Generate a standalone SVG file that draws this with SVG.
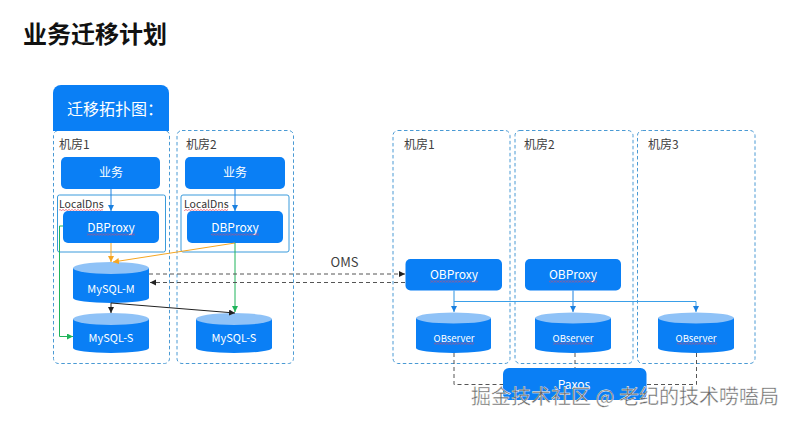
<svg xmlns="http://www.w3.org/2000/svg" width="792" height="422" viewBox="0 0 792 422">
<style>
text{font-family:"Noto Sans CJK SC","Liberation Sans",sans-serif}
.room{fill:#fff;stroke:#4a9ad4;stroke-width:1;stroke-dasharray:3.5 2.5}
.dns{fill:#fff;stroke:#3a9bdc;stroke-width:1}
.box{fill:#0a7ff5}
.side{fill:#0a7ff5}
.top{fill:#8fc2f7}
.w{fill:#fff;text-anchor:middle}
.k{fill:#404040;font-size:12px}
.sq{fill:url(#wavy)}
.c{fill:none;stroke-width:1}
.d{fill:none;stroke:#555;stroke-width:1;stroke-dasharray:4 3}
</style>
<defs>
<pattern id="wavy" width="3" height="2" patternUnits="userSpaceOnUse"><path d="M0 1.500L1.500 .5L3 1.500" fill="none" stroke="#e8455f" stroke-width=".7"/></pattern>
<marker id="ab" markerWidth="7" markerHeight="7" refX="6" refY="3" orient="auto"><path d="M0 0L6 3L0 6z" fill="#1a80e0"/></marker>
<marker id="ag" markerWidth="7" markerHeight="7" refX="6" refY="3" orient="auto"><path d="M0 0L6 3L0 6z" fill="#1fb45a"/></marker>
<marker id="ao" markerWidth="7" markerHeight="7" refX="6" refY="3" orient="auto"><path d="M0 0L6 3L0 6z" fill="#f5a623"/></marker>
<marker id="ak" markerWidth="7" markerHeight="7" refX="6" refY="3" orient="auto"><path d="M0 0L6 3L0 6z" fill="#222"/></marker>
</defs>
<rect width="792" height="422" fill="#fff"/>
<text id="title" x="23" y="43" font-size="24" font-weight="700" fill="#111">业务迁移计划</text>

<g id="room-a1"><rect class="room" x="53.500" y="130.500" width="116" height="233" rx="5"/><text class="k" x="59" y="149">机房1</text></g>
<g id="room-a2"><rect class="room" x="177" y="130.500" width="116.500" height="233" rx="5"/><text class="k" x="186" y="149">机房2</text></g>
<g id="room-b1"><rect class="room" x="393" y="130.500" width="117" height="233" rx="5"/><text class="k" x="404" y="149">机房1</text></g>
<g id="room-b2"><rect class="room" x="515" y="130.500" width="118" height="233" rx="5"/><text class="k" x="524" y="149">机房2</text></g>
<g id="room-b3"><rect class="room" x="637.500" y="130.500" width="117.500" height="233" rx="5"/><text class="k" x="648" y="149">机房3</text></g>

<g id="heading"><path class="box" d="M53 131V93a8 8 0 0 1 8-8H161a8 8 0 0 1 8 8V131z"/><text x="67" y="115" font-size="16" fill="#fff">迁移拓扑图：</text></g>

<g id="dns1"><rect class="dns" x="57.500" y="195" width="108" height="57" rx="2"/><text x="59" y="208" font-size="10.500" fill="#333">LocalDns</text><rect class="sq" x="59" y="209" width="44" height="2"/></g>
<g id="dns2"><rect class="dns" x="181" y="195" width="108" height="57" rx="2"/><text x="184" y="208" font-size="10.500" fill="#333">LocalDns</text><rect class="sq" x="184" y="209" width="44" height="2"/></g>

<g id="biz1"><rect class="box" x="61" y="157" width="99" height="32" rx="5"/><text class="w" x="111" y="177" font-size="12">业务</text></g>
<g id="biz2"><rect class="box" x="185" y="157" width="100" height="32" rx="5"/><text class="w" x="235" y="177" font-size="12">业务</text></g>
<g id="dbproxy1"><rect class="box" x="63" y="211" width="96" height="32" rx="5"/><text class="w" x="111" y="232" font-size="12">DBProxy</text><rect class="sq" x="87" y="233.500" width="48" height="2"/></g>
<g id="dbproxy2"><rect class="box" x="187" y="211" width="96" height="32" rx="5"/><text class="w" x="235" y="232" font-size="12">DBProxy</text><rect class="sq" x="211" y="233.500" width="48" height="2"/></g>

<g id="mysql-m"><path class="side" d="M73 268V298A38 5 0 0 0 149 298V268z"/><ellipse class="top" cx="111" cy="268" rx="38" ry="6"/><text class="w" x="111" y="293" font-size="11">MySQL-M</text></g>
<g id="mysql-s1"><path class="side" d="M73 319V348A38 5 0 0 0 149 348V319z"/><ellipse class="top" cx="111" cy="319" rx="38" ry="6"/><text class="w" x="111" y="342" font-size="11">MySQL-S</text></g>
<g id="mysql-s2"><path class="side" d="M196 319V348A38 5 0 0 0 272 348V319z"/><ellipse class="top" cx="234" cy="319" rx="38" ry="6"/><text class="w" x="234" y="342" font-size="11">MySQL-S</text></g>

<g id="obproxy1"><rect class="box" x="405.500" y="259" width="96.500" height="31.500" rx="5"/><text class="w" x="454" y="279" font-size="12">OBProxy</text><rect class="sq" x="430" y="280.500" width="48" height="2"/></g>
<g id="obproxy2"><rect class="box" x="525" y="259" width="96" height="31.500" rx="5"/><text class="w" x="573" y="279" font-size="12">OBProxy</text><rect class="sq" x="549" y="280.500" width="48" height="2"/></g>

<g id="obs1"><path class="side" d="M416 318V348A37.500 5 0 0 0 491 348V318z"/><ellipse class="top" cx="453.500" cy="318" rx="37.500" ry="5.500"/><text class="w" x="454" y="342" font-size="9.500">OBserver</text><rect class="sq" x="434" y="342.500" width="40" height="2"/></g>
<g id="obs2"><path class="side" d="M535 318V348A38 5 0 0 0 611 348V318z"/><ellipse class="top" cx="573" cy="318" rx="38" ry="5.500"/><text class="w" x="573" y="342" font-size="9.500">OBserver</text><rect class="sq" x="553" y="342.500" width="40" height="2"/></g>
<g id="obs3"><path class="side" d="M658 318V348A38 5 0 0 0 734 348V318z"/><ellipse class="top" cx="696" cy="318" rx="38" ry="5.500"/><text class="w" x="696" y="342" font-size="9.500">OBserver</text><rect class="sq" x="677" y="342.500" width="40" height="2"/></g>

<g id="connectors">
<path class="c" stroke="#1a80e0" marker-end="url(#ab)" d="M111 189V211"/>
<path class="c" stroke="#1a80e0" marker-end="url(#ab)" d="M235 189V211"/>
<path class="c" stroke="#f5a623" marker-end="url(#ao)" d="M111 243V262"/>
<path class="c" stroke="#f5a623" marker-end="url(#ao)" d="M235 243L113 262"/>
<path class="c" stroke="#1fb45a" marker-end="url(#ag)" d="M235 243V312"/>
<path class="c" stroke="#1fb45a" marker-end="url(#ag)" d="M63 226H59.500V336.500H73"/>
<path class="c" stroke="#222" marker-end="url(#ak)" d="M111 303V313"/>
<path class="c" stroke="#222" marker-end="url(#ak)" d="M111 303L235 313"/>
<path class="d" marker-end="url(#ak)" d="M149 274H405"/>
<path class="d" marker-end="url(#ak)" d="M405 282.500H150"/>
<path class="c" stroke="#2f93e0" marker-end="url(#ab)" d="M454 290.500V312"/>
<path class="c" stroke="#1a80e0" marker-end="url(#ab)" d="M573 290.500V312"/>
<path class="c" stroke="#3a9fe8" marker-end="url(#ab)" d="M454 301.500H696V312"/>
<path class="d" d="M454 353V384.500H503"/>
<path class="d" d="M575 353V368"/>
<path class="d" d="M696.500 353V384.500H646"/>
</g>
<text id="oms" x="344.500" y="267" font-size="13" fill="#404040" text-anchor="middle">OMS</text>
<g id="paxos"><rect class="box" x="503" y="368" width="143.500" height="32" rx="6"/><text class="w" x="574" y="389" font-size="12">Paxos</text></g>
<text id="watermark" x="471" y="404" font-size="20" fill="#666" stroke="#fff" stroke-width=".4">掘金技术社区 @ 老纪的技术唠嗑局</text>
</svg>
